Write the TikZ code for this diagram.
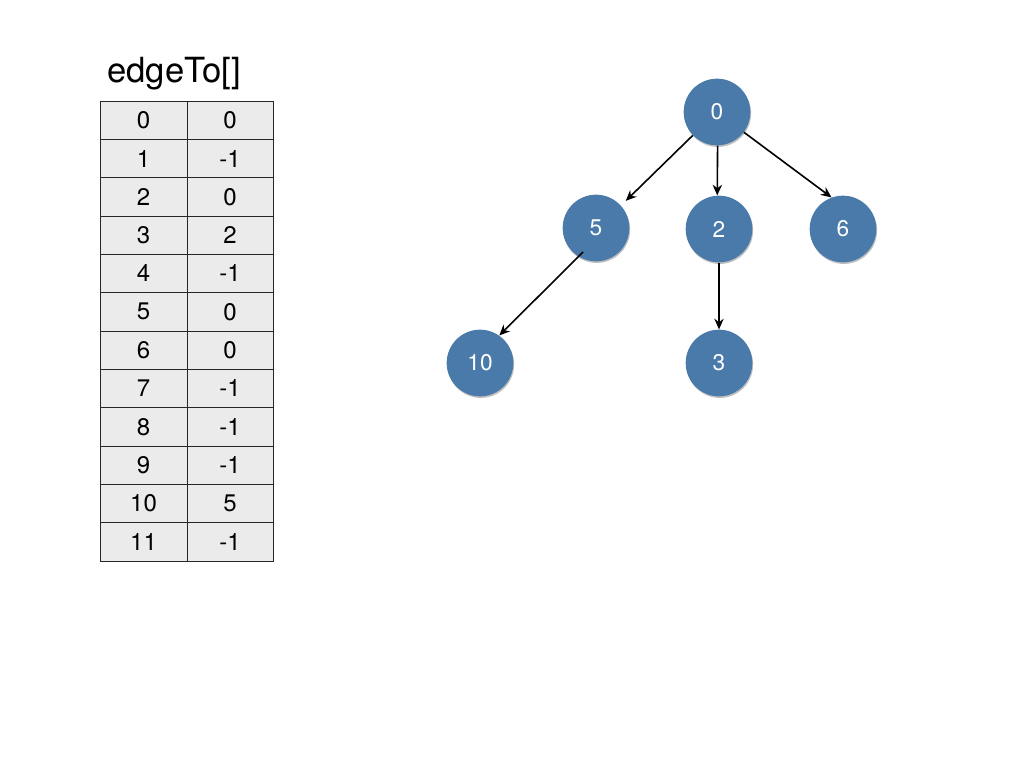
\documentclass[tikz,border=0pt]{standalone}
\usepackage{fontspec}
\setmainfont{TeX Gyre Heros}
\usetikzlibrary{arrows.meta,shadows,calc}
\definecolor{nodeblue}{RGB}{74,122,170}
\definecolor{cellgray}{RGB}{235,235,235}
\begin{document}
\begin{tikzpicture}[x=0.75pt,y=-0.75pt,
  vert/.style={circle,fill=nodeblue,minimum size=50pt,inner sep=0pt,text=white,
    font=\fontsize{17}{20}\selectfont,
    drop shadow={shadow xshift=0.6pt,shadow yshift=-1.2pt,fill=black,opacity=0.25}},
  cell/.style={rectangle,draw=black!85,line width=0.6pt,fill=cellgray,
    minimum height=28.75pt,inner sep=0pt,font=\fontsize{18}{21}\selectfont},
  keycell/.style={cell,minimum width=65.25pt},
  valcell/.style={cell,minimum width=64.5pt},
  arc/.style={-{Stealth[length=8pt,width=7pt]},line width=1.2pt,black}]
\useasboundingbox (0,0) rectangle (1024,768);
\node[anchor=base west,inner sep=0pt,font=\fontsize{26}{30}\selectfont] (title) at (107,82) {edgeTo[]};
\foreach \k/\v [count=\i from 0] in {0/0,1/-1,2/0,3/2,4/-1,5/0,6/0,7/-1,8/-1,9/-1,10/5,11/-1}{
  \node[keycell] (k\i) at (143.5,{101+38.33*(\i+0.5)}) {\k};
  \node[valcell] (v\i) at (230,{101+38.33*(\i+0.5)}) {\v};
}
\node[vert] (n0) at (717,112) {0};
\node[vert] (n5) at (596,228) {5};
\node[vert] (n2) at (719,229) {2};
\node[vert] (n6) at (843,229) {6};
\node[vert] (n10) at (480,363) {10};
\node[vert] (n3) at (719,363) {3};
\draw[arc,shorten >=5pt] (n0.-136) -- (n5.42);
\draw[arc] (n0.-89) -- (n2.93);
\draw[arc] (n0.-37) -- (n6.110);
\coordinate (s5) at ($(n5.center)+(-13,24)$);
\draw[arc] (s5) -- (n10.55);
\draw[arc] (n2) -- (n3);
\end{tikzpicture}
\end{document}
